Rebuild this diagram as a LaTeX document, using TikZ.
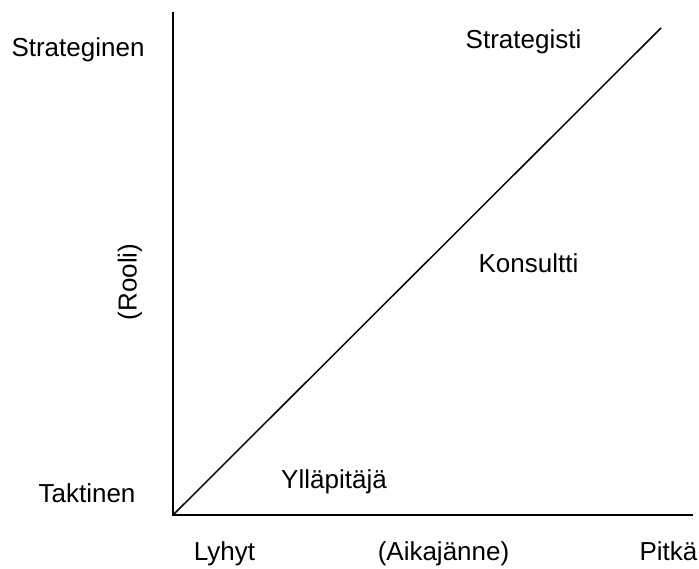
\documentclass[tikz,border=0pt]{standalone}
\usepackage{fontspec}
\setmainfont{Liberation Sans}
\usepackage{tikz}
\usetikzlibrary{positioning}

\begin{document}
\begin{tikzpicture}[x=0.75pt,y=-0.75pt,font=\fontsize{19.5}{23}\selectfont,
      lbl/.style={anchor=base,inner sep=0pt},
      axis/.style={line width=1.3pt},
      diag/.style={line width=1.1pt}]
    \useasboundingbox (0,0) rectangle (699,568);
    % Axes
    \coordinate (o) at (173,515);
    \coordinate (ytop) at (173,12);
    \coordinate (xend) at (693,515);
    \coordinate (dtop) at (661,28);
    \draw[axis] (ytop) -- (o) -- (xend);
    \draw[diag] (o) -- (dtop);
    % Role labels
    \node[lbl] (strat) at (78,56) {Strateginen};
    \node[lbl] (takt) at (87,502) {Taktinen};
    \node[lbl,rotate=90,anchor=center] (rooli) at (130,282) {(Rooli)};
    % Time labels
    \node[lbl] (lyhyt) at (224.5,560) {Lyhyt};
    \node[lbl] (aika) at (443.5,560) {(Aikajänne)};
    \node[lbl] (pitka) at (668.5,560) {Pitkä};
    % Roles along the line
    \node[lbl] (strategisti) at (523.5,48) {Strategisti};
    \node[lbl] (konsultti) at (528.5,272) {Konsultti};
    \node[lbl] (yllapitaja) at (334,488) {Ylläpitäjä};
  \end{tikzpicture}
\end{document}
